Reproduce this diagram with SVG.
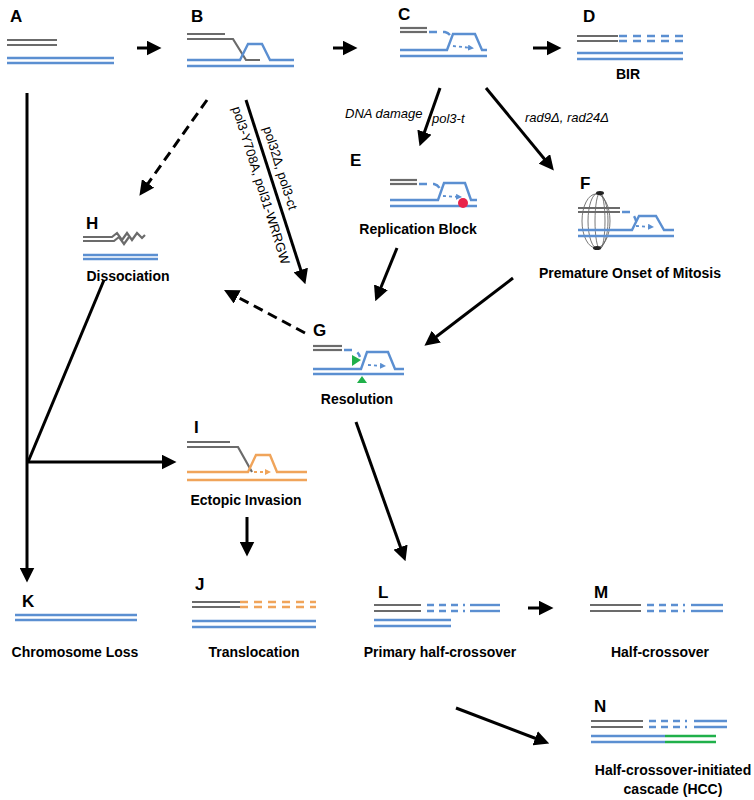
<svg xmlns="http://www.w3.org/2000/svg" width="754" height="800" viewBox="0 0 754 800">
<style>
.lb{font:bold 17px "Liberation Sans",Arial,sans-serif;fill:#000}
.cap{font:bold 14px "Liberation Sans",Arial,sans-serif;fill:#000;text-anchor:middle}
.it{font:italic 13px "Liberation Sans",Arial,sans-serif;fill:#000}
.tx{font:13px "Liberation Sans",Arial,sans-serif;fill:#000}
.g{stroke:#6b6b6b;stroke-width:2.2;fill:none}
.b{stroke:#5b8fd1;stroke-width:2.4;fill:none}
.o{stroke:#f0a45a;stroke-width:2.4;fill:none}
.gr{stroke:#20b04a;stroke-width:2.4;fill:none}
.bd{stroke:#5b8fd1;stroke-width:2.4;fill:none;stroke-dasharray:8 6}
.bdot{stroke:#5b8fd1;stroke-width:1.8;fill:none;stroke-dasharray:3 3}
.od{stroke:#f0a45a;stroke-width:2.6;fill:none;stroke-dasharray:8 6}
.a{stroke:#000;stroke-width:3;fill:none;marker-end:url(#ah)}
.ad{stroke:#000;stroke-width:3;fill:none;stroke-dasharray:10 6;marker-end:url(#ah)}
</style>
<defs>
<marker id="ah" markerWidth="5" markerHeight="5" refX="3.5" refY="2.5" orient="auto" markerUnits="strokeWidth"><path d="M0,0 L5,2.5 L0,5 Z" fill="#000"/></marker>
<marker id="sb" markerWidth="6" markerHeight="6" refX="4" refY="3" orient="auto" markerUnits="userSpaceOnUse"><path d="M0,0 L6,3 L0,6 Z" fill="#5b8fd1"/></marker>
<marker id="so" markerWidth="6" markerHeight="6" refX="4" refY="3" orient="auto" markerUnits="userSpaceOnUse"><path d="M0,0 L6,3 L0,6 Z" fill="#f0a45a"/></marker>
</defs>

<g id="connectors">
<line class="a" x1="137" y1="48" x2="157" y2="48"/>
<line class="a" x1="333" y1="48" x2="353" y2="48"/>
<line class="a" x1="533" y1="48" x2="557" y2="48"/>
<line class="a" x1="27" y1="93" x2="27" y2="578"/>
<line style="stroke:#000;stroke-width:3" x1="104" y1="280" x2="28" y2="462"/>
<line class="a" x1="27" y1="462" x2="172" y2="462"/>
<line class="ad" x1="207" y1="100" x2="142" y2="192"/>
<line class="a" x1="246" y1="100" x2="304" y2="280"/>
<line class="a" x1="440" y1="88" x2="421" y2="142"/>
<line class="a" x1="486" y1="88" x2="551" y2="167"/>
<line class="a" x1="397" y1="248" x2="377" y2="297"/>
<line class="a" x1="513" y1="278" x2="428" y2="343"/>
<line class="ad" x1="305" y1="333" x2="228" y2="292"/>
<line class="a" x1="356" y1="422" x2="404" y2="557"/>
<line class="a" x1="247" y1="517" x2="247" y2="552"/>
<line class="a" x1="528" y1="608" x2="549" y2="608"/>
<line class="a" x1="456" y1="708" x2="545" y2="742"/>
<text class="it" x="345" y="118">DNA damage</text>
<text class="it" x="432" y="123">pol3-t</text>
<text class="it" x="525" y="122">rad9Δ, rad24Δ</text>
<text class="tx" transform="translate(263,128) rotate(72.5)">pol32Δ, pol3-ct</text>
<text class="tx" transform="translate(232,108) rotate(72.5)">pol3-Y708A, pol31-WRRGW</text>
</g>

<g id="A"><text class="lb" x="10" y="22">A</text>
<line class="g" x1="7" y1="40" x2="57" y2="40"/><line class="g" x1="7" y1="45" x2="57" y2="45"/>
<line class="b" x1="7" y1="58" x2="114" y2="58"/><line class="b" x1="7" y1="63" x2="114" y2="63"/></g>

<g id="B"><text class="lb" x="191" y="22">B</text>
<line class="g" x1="187" y1="34" x2="225" y2="34"/>
<polyline class="g" points="187,39 233,39 246,60 260,60"/>
<polyline class="b" points="187,60 240,60 248,44 262,44 270,60 294,60"/>
<line class="b" x1="187" y1="66" x2="294" y2="66"/></g>

<g id="C"><text class="lb" x="398" y="20">C</text>
<line class="g" x1="400" y1="28" x2="427" y2="28"/><line class="g" x1="400" y1="32" x2="427" y2="32"/>
<path class="bd" d="M429,32 H445 Q450,33 452,39"/>
<polyline class="b" points="400,50 447,50 453,34 475,34 482,50 487,50"/>
<line class="b" x1="400" y1="56" x2="487" y2="56"/>
<line class="bdot" x1="453" y1="46" x2="472" y2="48" marker-end="url(#sb)"/></g>

<g id="D"><text class="lb" x="583" y="22">D</text>
<line class="g" x1="577" y1="36" x2="618" y2="36"/><line class="g" x1="577" y1="41" x2="618" y2="41"/>
<line class="bd" x1="619" y1="36" x2="683" y2="36"/><line class="bd" x1="619" y1="41" x2="683" y2="41"/>
<line class="b" x1="577" y1="53" x2="683" y2="53"/><line class="b" x1="577" y1="59" x2="683" y2="59"/>
<text class="cap" x="628" y="79">BIR</text></g>

<g id="E"><text class="lb" x="350" y="166">E</text>
<line class="g" x1="390" y1="180" x2="417" y2="180"/><line class="g" x1="390" y1="184" x2="417" y2="184"/>
<path class="bd" d="M419,184 H434 Q439,185 441,191"/>
<polyline class="b" points="390,200 438,200 444,183 465,183 471,200 477,200"/>
<line class="b" x1="390" y1="206" x2="477" y2="206"/>
<line class="bdot" x1="443" y1="196" x2="460" y2="197" marker-end="url(#sb)"/>
<circle cx="463" cy="203" r="5" fill="#e8234a"/>
<text class="cap" x="418" y="234">Replication Block</text></g>

<g id="F"><text class="lb" x="580" y="189">F</text>
<g stroke="#555" stroke-width="0.8" fill="none">
<ellipse cx="598" cy="221" rx="10" ry="28"/><ellipse cx="600" cy="221" rx="5" ry="28"/><ellipse cx="596" cy="221" rx="14" ry="27"/>
</g>
<ellipse cx="600" cy="193" rx="4" ry="2" fill="#222"/><ellipse cx="597" cy="248" rx="4" ry="2" fill="#222"/>
<line class="g" x1="578" y1="208" x2="620" y2="208"/><line class="g" x1="578" y1="212" x2="620" y2="212"/>
<path class="bd" d="M622,212 H630 Q634,214 636,221"/>
<polyline class="b" points="578,230 632,230 639,216 656,216 664,230 674,230"/>
<line class="b" x1="578" y1="236" x2="674" y2="236"/>
<line class="bdot" x1="636" y1="226" x2="652" y2="227" marker-end="url(#sb)"/>
<text class="cap" x="630" y="278">Premature Onset of Mitosis</text></g>

<g id="H"><text class="lb" x="86" y="229">H</text>
<polyline class="g" points="83,237 112,237 117,233 122,240 127,233 132,240 137,233 142,238 145,235"/>
<polyline class="g" points="83,241 114,241 119,237 124,244 129,237"/>
<line class="b" x1="83" y1="255" x2="158" y2="255"/><line class="b" x1="83" y1="259" x2="158" y2="259"/>
<text class="cap" x="128" y="281">Dissociation</text></g>

<g id="G"><text class="lb" x="313" y="336">G</text>
<line class="g" x1="313" y1="346" x2="342" y2="346"/><line class="g" x1="313" y1="350" x2="342" y2="350"/>
<path class="bd" d="M344,350 H353 Q358,351 360,357"/>
<polyline class="b" points="313,369 361,369 367,352 388,352 395,369 404,369"/>
<line class="b" x1="313" y1="374" x2="404" y2="374"/>
<line class="bdot" x1="368" y1="365" x2="384" y2="366" marker-end="url(#sb)"/>
<path d="M352,355 L361,360 L352,366 Z" fill="#20b04a"/>
<path d="M357,383 L362,376 L367,383 Z" fill="#20b04a"/>
<text class="cap" x="357" y="404">Resolution</text></g>

<g id="I"><text class="lb" x="194" y="433">I</text>
<line class="g" x1="187" y1="442" x2="230" y2="442"/>
<polyline class="g" points="187,447 238,447 252,472"/>
<polyline class="o" points="187,472 248,472 256,455 270,455 277,472 307,472"/>
<line class="o" x1="187" y1="480" x2="307" y2="480"/>
<line style="stroke:#f0a45a;stroke-width:1.8;stroke-dasharray:3 3" x1="254" y1="472" x2="269" y2="472" marker-end="url(#so)"/>
<text class="cap" x="246" y="505">Ectopic Invasion</text></g>

<g id="K"><text class="lb" x="22" y="607">K</text>
<line class="b" x1="15" y1="615" x2="137" y2="615"/><line class="b" x1="15" y1="620" x2="137" y2="620"/>
<text class="cap" x="75" y="657">Chromosome Loss</text></g>

<g id="J"><text class="lb" x="195" y="590">J</text>
<line class="g" x1="192" y1="602" x2="240" y2="602"/><line class="g" x1="192" y1="607" x2="240" y2="607"/>
<line class="od" x1="240" y1="602" x2="316" y2="602"/><line class="od" x1="240" y1="607" x2="316" y2="607"/>
<line class="b" x1="192" y1="621" x2="316" y2="621"/><line class="b" x1="192" y1="627" x2="316" y2="627"/>
<text class="cap" x="254" y="657">Translocation</text></g>

<g id="L"><text class="lb" x="378" y="598">L</text>
<line class="g" x1="374" y1="605" x2="421" y2="605"/><line class="g" x1="374" y1="611" x2="421" y2="611"/>
<line class="b" x1="427" y1="605" x2="465" y2="605" style="stroke-dasharray:7 5"/><line class="b" x1="427" y1="611" x2="465" y2="611" style="stroke-dasharray:7 5"/>
<line class="b" x1="470" y1="605" x2="500" y2="605"/><line class="b" x1="470" y1="611" x2="500" y2="611"/>
<line class="b" x1="374" y1="620" x2="451" y2="620"/><line class="b" x1="374" y1="626" x2="451" y2="626"/>
<text class="cap" x="440" y="657">Primary half-crossover</text></g>

<g id="M"><text class="lb" x="594" y="598">M</text>
<line class="g" x1="590" y1="605" x2="641" y2="605"/><line class="g" x1="590" y1="611" x2="641" y2="611"/>
<line class="b" x1="647" y1="605" x2="685" y2="605" style="stroke-dasharray:7 5"/><line class="b" x1="647" y1="611" x2="685" y2="611" style="stroke-dasharray:7 5"/>
<line class="b" x1="691" y1="605" x2="723" y2="605"/><line class="b" x1="691" y1="611" x2="723" y2="611"/>
<text class="cap" x="660" y="657">Half-crossover</text></g>

<g id="N"><text class="lb" x="594" y="712">N</text>
<line class="g" x1="591" y1="721" x2="643" y2="721"/><line class="g" x1="591" y1="727" x2="643" y2="727"/>
<line class="b" x1="649" y1="721" x2="687" y2="721" style="stroke-dasharray:7 5"/><line class="b" x1="649" y1="727" x2="687" y2="727" style="stroke-dasharray:7 5"/>
<line class="b" x1="694" y1="721" x2="727" y2="721"/><line class="b" x1="694" y1="727" x2="727" y2="727"/>
<line class="b" x1="591" y1="736" x2="665" y2="736"/><line class="b" x1="591" y1="742" x2="665" y2="742"/>
<line class="gr" x1="665" y1="736" x2="716" y2="736"/><line class="gr" x1="665" y1="742" x2="716" y2="742"/>
<text class="cap" x="673" y="775">Half-crossover-initiated</text>
<text class="cap" x="673" y="794">cascade (HCC)</text></g>
</svg>
